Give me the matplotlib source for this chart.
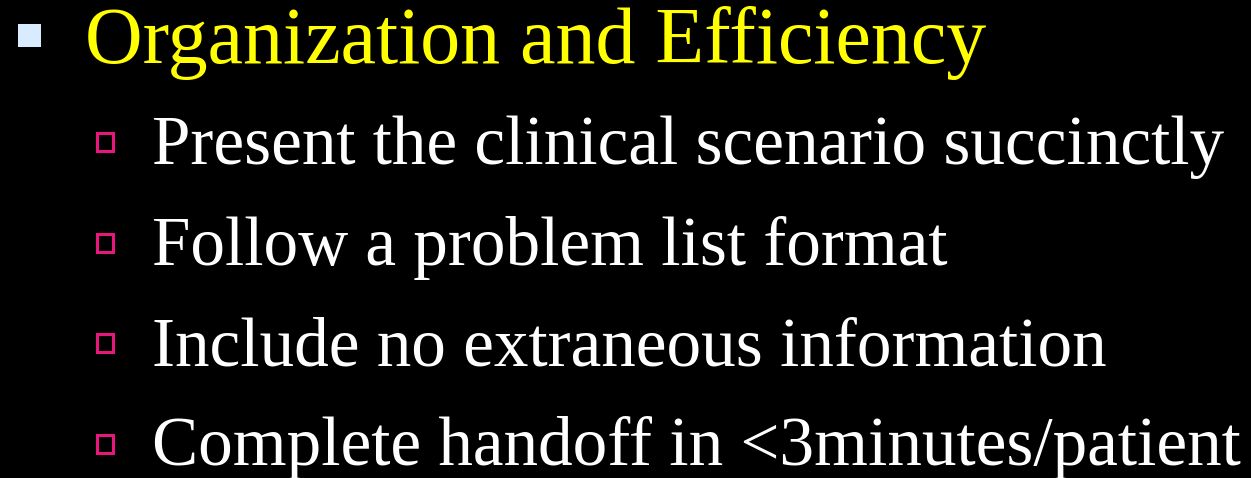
import matplotlib.pyplot as plt
from matplotlib.patches import Rectangle

title = "Organization and Efficiency"
items = [
    "Present the clinical scenario succinctly",
    "Follow a problem list format",
    "Include no extraneous information",
    "Complete handoff in <3minutes/patient",
]

W, H = 1251, 478
fig = plt.figure(figsize=(W / 100, H / 100), dpi=100)
fig.patch.set_facecolor('black')
ax = fig.add_axes([0, 0, 1, 1])
ax.set_xlim(0, W)
ax.set_ylim(H, 0)
ax.axis('off')

# top level bullet
ax.add_patch(Rectangle((18, 24), 23, 23, facecolor='#D9ECFF', edgecolor='none'))
ax.text(85, 63, title, color='#FFFF00', fontsize=57.5, family='Liberation Serif', va='baseline')

# sub bullets
for i, s in enumerate(items):
    y = 164 + i * 100.5
    ax.add_patch(Rectangle((97, y - 31), 16, 18, facecolor='none', edgecolor='#E8177D', linewidth=2.2))
    ax.text(152, y, s, color='white', fontsize=49.8, family='Liberation Serif', va='baseline')

fig.savefig('out.png', dpi=100, facecolor='black')
